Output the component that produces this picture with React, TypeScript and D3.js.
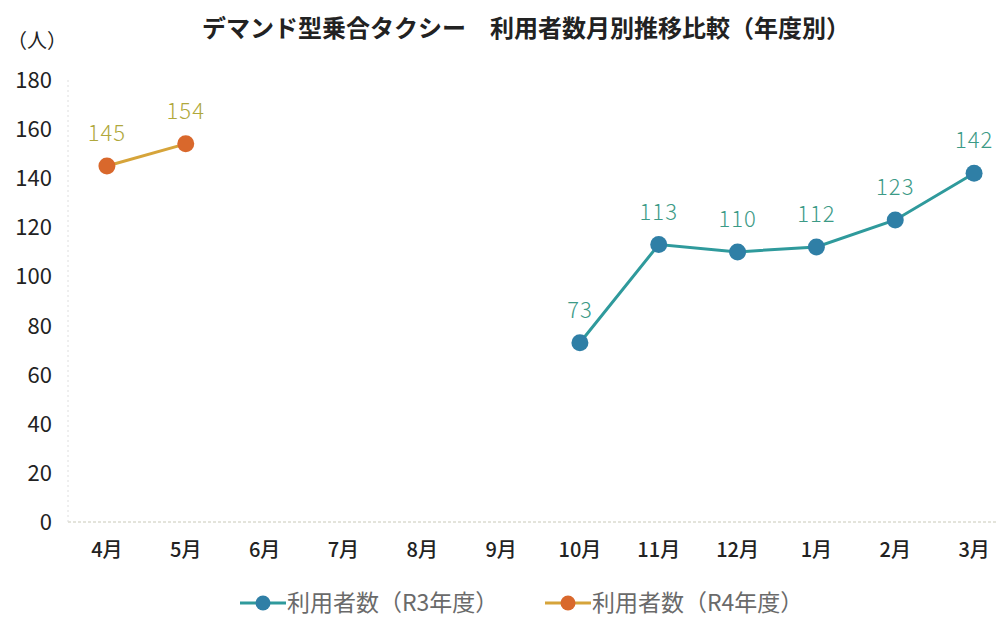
import { useEffect, useRef } from "react";
import * as d3 from "d3";

const months = ["4月", "5月", "6月", "7月", "8月", "9月", "10月", "11月", "12月", "1月", "2月", "3月"];
const r3Values: (number | null)[] = [null, null, null, null, null, null, 73, 113, 110, 112, 123, 142];
const r4Values: (number | null)[] = [145, 154, null, null, null, null, null, null, null, null, null, null];
const yTicks = [0, 20, 40, 60, 80, 100, 120, 140, 160, 180];
const seriesNames = ["利用者数（R3年度）", "利用者数（R4年度）"];

const FONT = "'Noto Sans CJK JP', 'Noto Sans', sans-serif";

const App = () => {
  const ref = useRef<SVGSVGElement>(null);

  useEffect(() => {
    const svg = d3.select(ref.current);
    svg.selectAll("*").remove();

    const x = d3.scalePoint().domain(months).range([67.5, 1013.5]).padding(0.5);
    const y = d3.scaleLinear().domain([0, 180]).range([522, 80]);

    // title
    svg
      .append("text")
      .attr("x", 526)
      .attr("y", 37)
      .attr("text-anchor", "middle")
      .attr("font-family", FONT)
      .attr("font-size", 24)
      .attr("font-weight", "bold")
      .attr("fill", "#222")
      .text("デマンド型乗合タクシー　利用者数月別推移比較（年度別）");

    svg
      .append("text")
      .attr("x", 37)
      .attr("y", 48)
      .attr("text-anchor", "middle")
      .attr("font-family", FONT)
      .attr("font-size", 20)
      .attr("fill", "#222")
      .text("（人）");

    // axes
    svg
      .append("line")
      .attr("x1", 68)
      .attr("x2", 998)
      .attr("y1", y(0))
      .attr("y2", y(0))
      .attr("stroke", "#c9c9b8")
      .attr("stroke-width", 1)
      .attr("stroke-dasharray", "3,2");
    svg
      .append("line")
      .attr("x1", 68)
      .attr("x2", 68)
      .attr("y1", y(180))
      .attr("y2", y(0))
      .attr("stroke", "#dedede")
      .attr("stroke-width", 1)
      .attr("stroke-dasharray", "2,3");

    svg
      .append("g")
      .selectAll("text")
      .data(yTicks)
      .join("text")
      .attr("x", 52)
      .attr("y", (d) => y(d) + 8)
      .attr("text-anchor", "end")
      .attr("font-family", FONT)
      .attr("font-size", 22)
      .attr("fill", "#222")
      .text((d) => d);

    svg
      .append("g")
      .selectAll("text")
      .data(months)
      .join("text")
      .attr("x", (d) => x(d)!)
      .attr("y", 557)
      .attr("text-anchor", "middle")
      .attr("font-family", FONT)
      .attr("font-size", 20)
      .attr("font-weight", 500)
      .attr("fill", "#222")
      .text((d) => d);

    const series = [
      { values: r3Values, line: "#2f9a9c", dot: "#2f7fa6", label: "#3c9a86" },
      { values: r4Values, line: "#d6a43a", dot: "#d9682c", label: "#b0a83c" },
    ];

    const line = d3
      .line<number | null>()
      .defined((d) => d !== null)
      .x((_, i) => x(months[i])!)
      .y((d) => y(d as number));

    series.forEach((s) => {
      svg
        .append("path")
        .datum(s.values)
        .attr("d", line)
        .attr("fill", "none")
        .attr("stroke", s.line)
        .attr("stroke-width", 3);

      const pts = s.values
        .map((v, i) => ({ v, m: months[i] }))
        .filter((d) => d.v !== null);

      svg
        .append("g")
        .selectAll("circle")
        .data(pts)
        .join("circle")
        .attr("cx", (d) => x(d.m)!)
        .attr("cy", (d) => y(d.v as number))
        .attr("r", 8.5)
        .attr("fill", s.dot);

      svg
        .append("g")
        .selectAll("text")
        .data(pts)
        .join("text")
        .attr("x", (d) => x(d.m)!)
        .attr("y", (d) => y(d.v as number) - 25)
        .attr("text-anchor", "middle")
        .attr("font-family", FONT)
        .attr("font-size", 22)
        .attr("font-weight", 300)
        .attr("letter-spacing", 1)
        .attr("fill", s.label)
        .text((d) => String(d.v));
    });

    // legend
    const legendX = [240, 545];
    series.forEach((s, i) => {
      const g = svg.append("g").attr("transform", `translate(${legendX[i]},603)`);
      g.append("line")
        .attr("x1", 0)
        .attr("x2", 46)
        .attr("y1", 0)
        .attr("y2", 0)
        .attr("stroke", s.line)
        .attr("stroke-width", 3);
      g.append("circle").attr("cx", 23).attr("cy", 0).attr("r", 7.5).attr("fill", s.dot);
      g.append("text")
        .attr("x", 47)
        .attr("y", 8)
        .attr("font-family", FONT)
        .attr("font-size", 23)
        .attr("fill", "#6a6a6a")
        .text(seriesNames[i]);
    });
  }, []);

  return <svg ref={ref} width={998} height={620} style={{ position: "absolute", left: 0, top: 0, background: "#fff" }} />;
};

export default App;
